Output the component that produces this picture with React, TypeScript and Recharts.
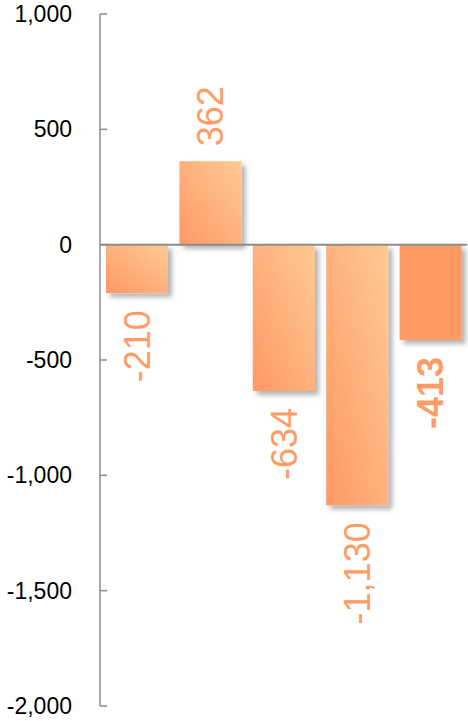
import React from "react";
import { BarChart, Bar, XAxis, YAxis, ReferenceLine, LabelList } from "recharts";

const categories = ["1", "2", "3", "4", "5"];
const values = [-210, 362, -634, -1130, -413];
const yTicks = [1000, 500, 0, -500, -1000, -1500, -2000];
const highlightIndex = 4;

const data = categories.map((c, i) => ({ name: c, value: values[i] }));

const fmt = (v: number) => v.toLocaleString("en-US");

const LABEL_COLOR = "#FF9C66";
const AXIS_COLOR = "#8C8C8C";
const FONT = "'Liberation Sans', Arial, sans-serif";

const YTick = (props: any) => {
  const { x, y, payload } = props;
  return (
    <g>
      <line x1={x} x2={x + 7} y1={y} y2={y} stroke={AXIS_COLOR} strokeWidth={1.5} />
      <text
        x={x - 28}
        y={y}
        textAnchor="end"
        dominantBaseline="central"
        fontSize={23}
        fontFamily={FONT}
        fill="#000"
      >
        {fmt(payload.value)}
      </text>
    </g>
  );
};

const BarShape = (props: any) => {
  const { x, y, width, height, index } = props;
  const top = Math.min(y, y + height);
  const h = Math.abs(height);
  const fill = index === highlightIndex ? "#FF9A64" : "url(#barGrad)";
  return <rect x={x} y={top} width={width} height={h} fill={fill} filter="url(#barShadow)" />;
};

const ValueLabel = (props: any) => {
  const { x, y, width, height, value, index } = props;
  const top = Math.min(y, y + height);
  const bottom = Math.max(y, y + height);
  const cx = x + width / 2;
  const fs = 36;
  const bx = cx + fs * 0.716 / 2;
  const positive = value >= 0;
  const ty = positive ? top - 15 : bottom + 17;
  return (
    <text
      x={bx}
      y={ty}
      transform={`rotate(-90 ${bx} ${ty})`}
      textAnchor={positive ? "start" : "end"}
      fontSize={fs}
      fontFamily={FONT}
      fontWeight={index === highlightIndex ? "bold" : "normal"}
      fill={LABEL_COLOR}
    >
      {fmt(value)}
    </text>
  );
};

export default function App() {
  return (
    <div style={{ position: "absolute", left: 0, top: 0, background: "#fff" }}>
      <BarChart
        width={468}
        height={721}
        data={data}
        margin={{ top: 14, right: 1, bottom: 15, left: 0 }}
        barSize={62}
      >
        <defs>
          <linearGradient id="barGrad" x1="0" y1="1" x2="1" y2="0">
            <stop offset="0%" stopColor="#FF9864" />
            <stop offset="100%" stopColor="#FFCA94" />
          </linearGradient>
          <filter id="barShadow" x="-20%" y="-20%" width="150%" height="150%">
            <feDropShadow dx="4" dy="4" stdDeviation="2.5" floodColor="#000" floodOpacity="0.3" />
          </filter>
        </defs>
        <XAxis dataKey="name" hide />
        <YAxis
          width={100}
          domain={[-2000, 1000]}
          ticks={yTicks}
          interval={0}
          tickSize={0}
          tickMargin={0}
          tickLine={false}
          axisLine={{ stroke: AXIS_COLOR, strokeWidth: 1.5 }}
          tick={<YTick />}
        />
        <Bar dataKey="value" isAnimationActive={false} shape={<BarShape />}>
          <LabelList dataKey="value" content={<ValueLabel />} />
        </Bar>
        <ReferenceLine y={0} stroke={AXIS_COLOR} strokeWidth={2} />
      </BarChart>
    </div>
  );
}
